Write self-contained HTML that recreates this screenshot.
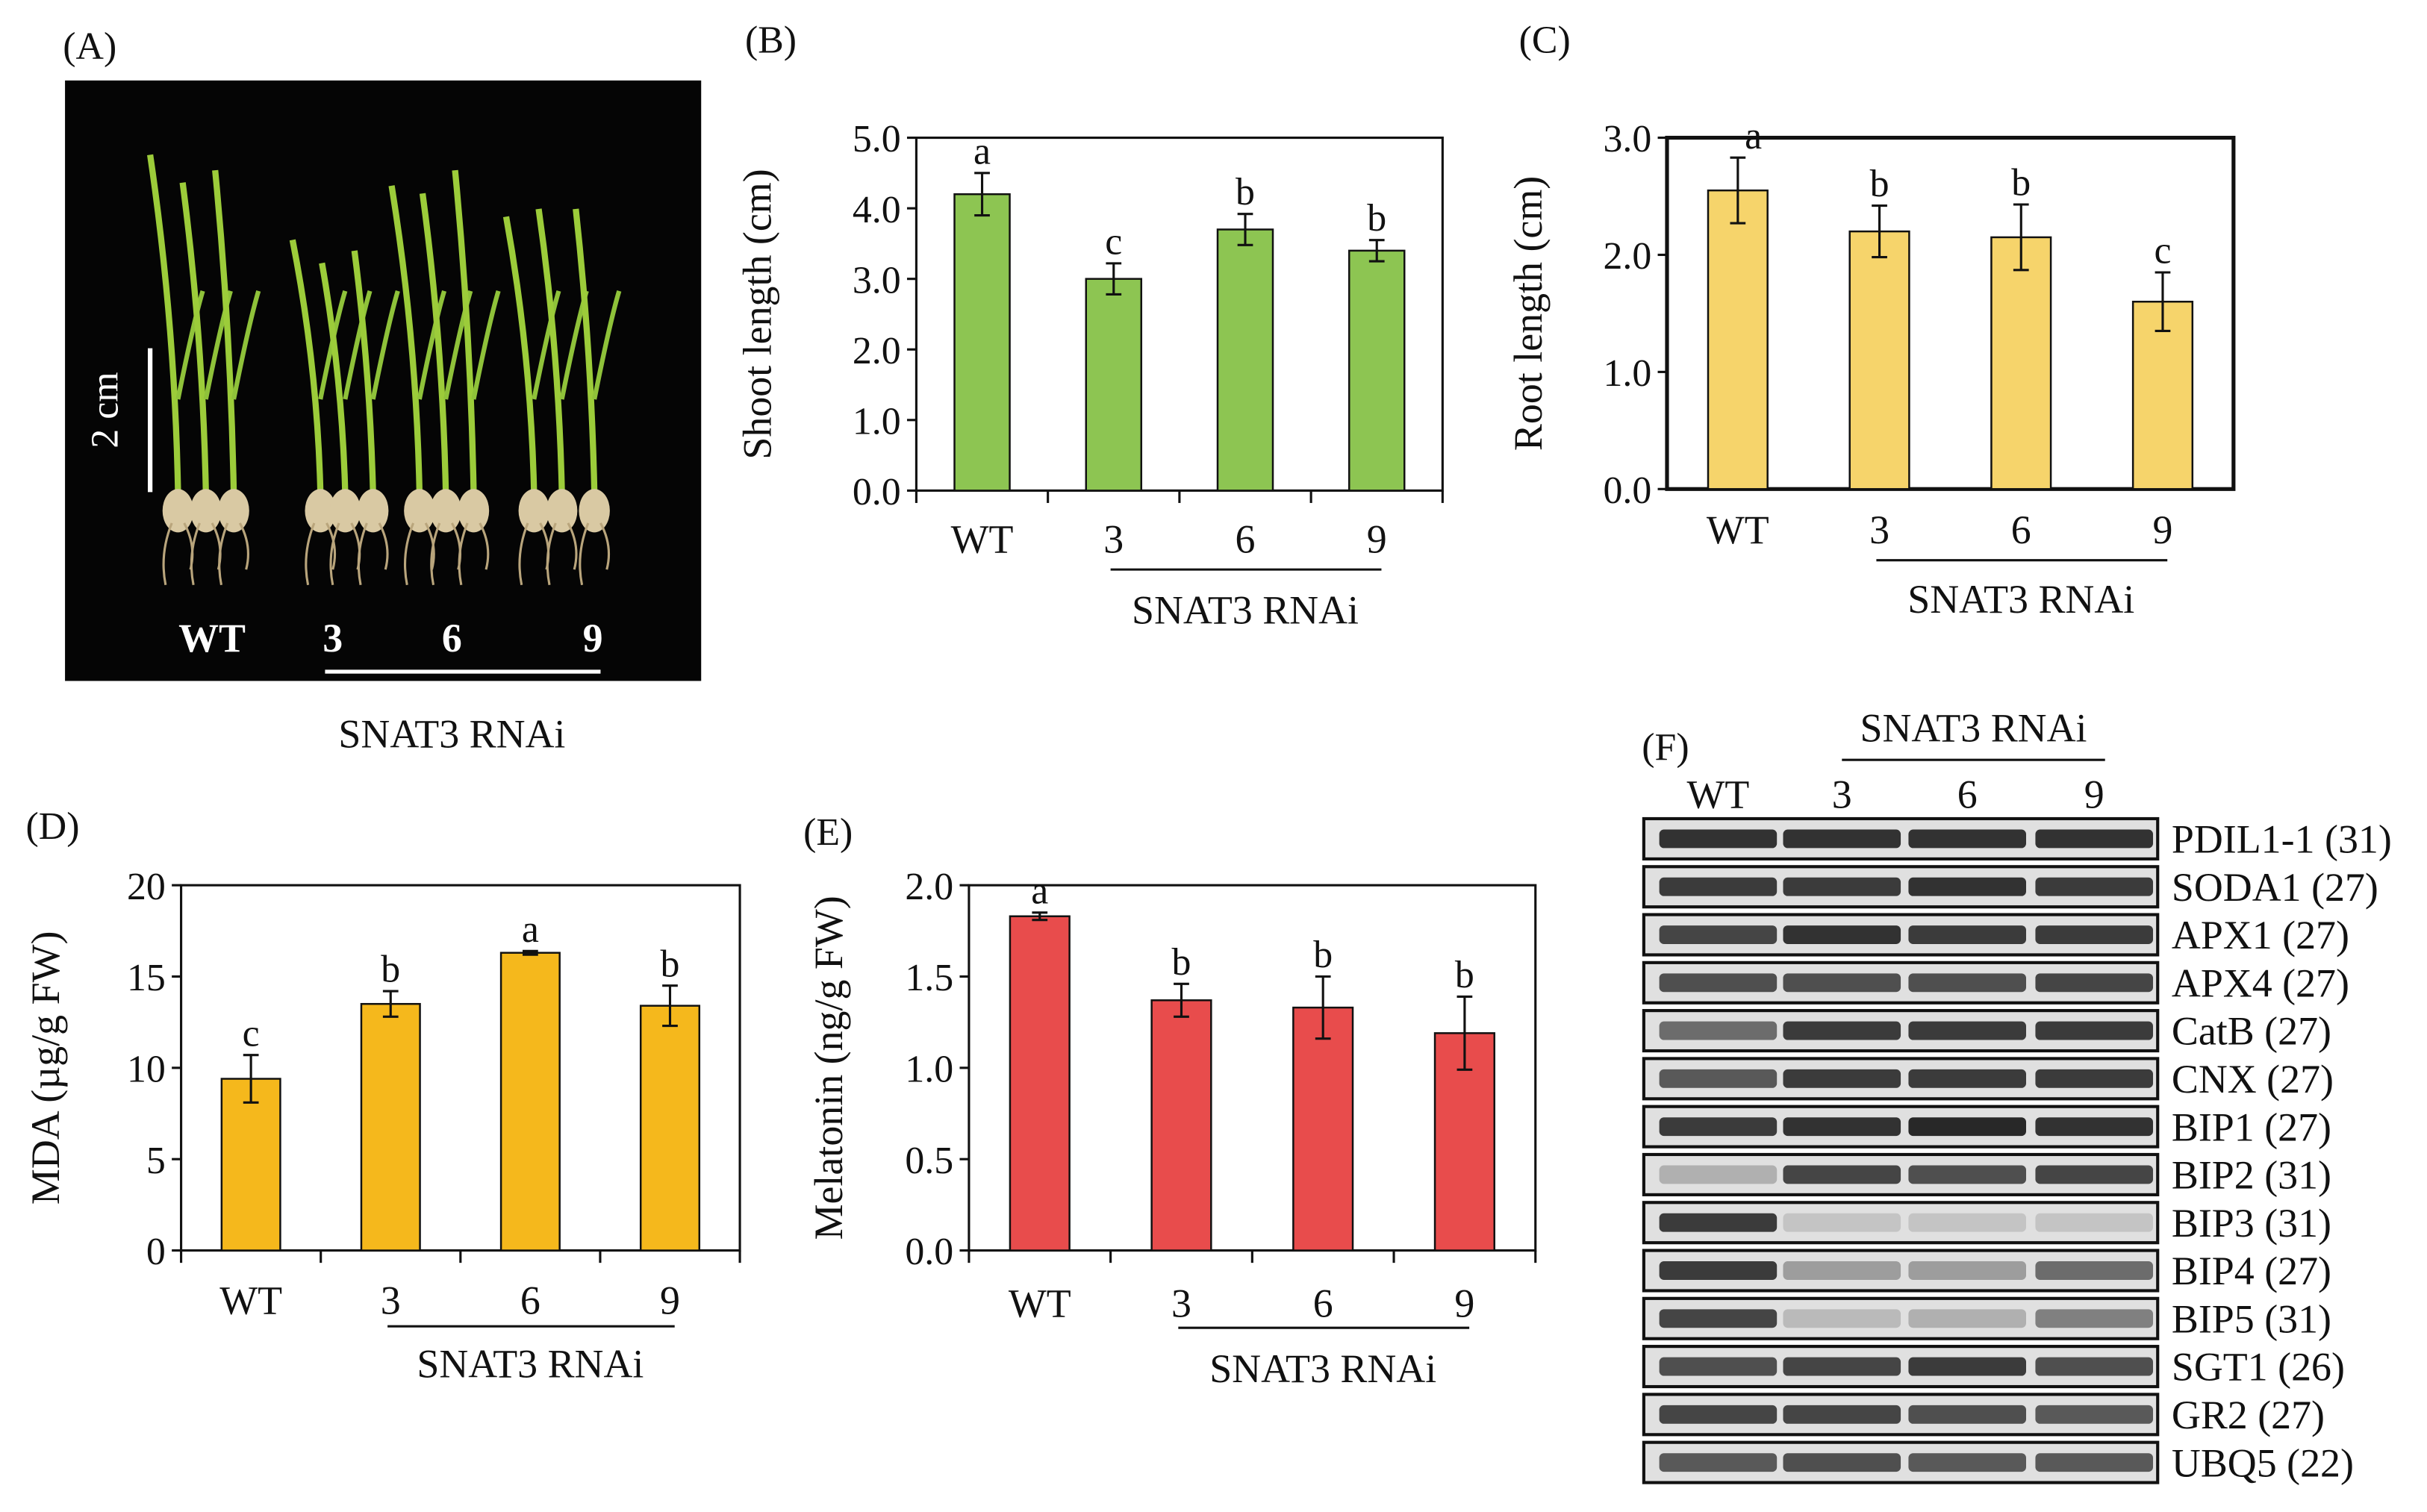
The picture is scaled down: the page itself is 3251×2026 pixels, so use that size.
<!DOCTYPE html>
<html><head><meta charset="utf-8"><style>
html,body{margin:0;padding:0;background:#fff}
svg{display:block}
text{font-family:"Liberation Serif",serif;fill:#111}
</style></head><body>
<svg id="fig" width="3251" height="2026" viewBox="0 0 1568 977" preserveAspectRatio="none">
<rect x="0" y="0" width="1568" height="977" fill="#fff"/>
<g id="panelA">
<text x="58" y="38" font-size="25" text-anchor="middle">(A)</text>
<rect x="42" y="52" width="411" height="388" fill="#050505"/>
<g id="plants"></g>
<line x1="97" y1="225" x2="97" y2="318" stroke="#fff" stroke-width="3"/>
<text x="0" y="0" font-size="25" style="fill:#fff" text-anchor="middle" transform="translate(76,265) rotate(-90)">2 cm</text>
<text x="137" y="421" font-size="26" font-weight="bold" style="fill:#fff" text-anchor="middle">WT</text>
<text x="215" y="421" font-size="26" font-weight="bold" style="fill:#fff" text-anchor="middle">3</text>
<text x="292" y="421" font-size="26" font-weight="bold" style="fill:#fff" text-anchor="middle">6</text>
<text x="383" y="421" font-size="26" font-weight="bold" style="fill:#fff" text-anchor="middle">9</text>
<line x1="210" y1="434" x2="388" y2="434" stroke="#fff" stroke-width="2.5"/>
<text x="292" y="483" font-size="26" text-anchor="middle">SNAT3 RNAi</text>
</g>
<g id="charts"></g>
<g id="panelF">
<text x="1076" y="491" font-size="25" text-anchor="middle">(F)</text>
<text x="1275" y="479" font-size="26" text-anchor="middle">SNAT3 RNAi</text>
<line x1="1190" y1="491" x2="1360" y2="491" stroke="#111" stroke-width="1.5"/>
<text x="1110" y="522" font-size="26" text-anchor="middle">WT</text>
<text x="1190" y="522" font-size="26" text-anchor="middle">3</text>
<text x="1271" y="522" font-size="26" text-anchor="middle">6</text>
<text x="1353" y="522" font-size="26" text-anchor="middle">9</text>
<g id="gels"></g>
</g>
</svg>
<script>
const NS="http://www.w3.org/2000/svg";
function mk(parent,tag,attrs,txt){const e=document.createElementNS(NS,tag);for(const k in attrs)e.setAttribute(k,attrs[k]);if(txt!==undefined)e.textContent=txt;parent.appendChild(e);return e;}

const categories=["WT","3","6","9"];
const shootValues=[4.2,3.0,3.7,3.4];
const shootErrors=[0.3,0.22,0.22,0.15];
const shootLetters=["a","c","b","b"];
const shootTicks=["0.0","1.0","2.0","3.0","4.0","5.0"];
const rootValues=[2.55,2.2,2.15,1.6];
const rootErrors=[0.28,0.22,0.28,0.25];
const rootLetters=["a","b","b","c"];
const rootTicks=["0.0","1.0","2.0","3.0"];
const mdaValues=[9.4,13.5,16.3,13.4];
const mdaErrors=[1.3,0.7,0.1,1.1];
const mdaLetters=["c","b","a","b"];
const mdaTicks=["0","5","10","15","20"];
const melValues=[1.83,1.37,1.33,1.19];
const melErrors=[0.02,0.09,0.17,0.2];
const melLetters=["a","b","b","b"];
const melTicks=["0.0","0.5","1.0","1.5","2.0"];

const charts=[
 {id:"b",label:"(B)",lx:498,ly:34,x0:592,x1:932,y0:317,y1:89,max:5,vals:shootValues,errs:shootErrors,letters:shootLetters,ticks:shootTicks,color:"#8dc552",title:"Shoot length (cm)",tx:490,xl:357,ul:368,sn:403,bottomTicks:true},
 {id:"c",label:"(C)",lx:998,ly:34,x0:1077,x1:1443,y0:316,y1:89,max:3,vals:rootValues,errs:rootErrors,letters:rootLetters,ticks:rootTicks,color:"#f6d46b",title:"Root length (cm)",tx:988,xl:351,ul:362,sn:396,bottomTicks:false,thick:true},
 {id:"d",label:"(D)",lx:34,ly:542,x0:117,x1:478,y0:808,y1:572,max:20,vals:mdaValues,errs:mdaErrors,letters:mdaLetters,ticks:mdaTicks,color:"#f5b81c",title:"MDA (\u00b5g/g FW)",tx:30,xl:849,ul:857,sn:890,bottomTicks:true},
 {id:"e",label:"(E)",lx:535,ly:546,x0:626,x1:992,y0:808,y1:572,max:2,vals:melValues,errs:melErrors,letters:melLetters,ticks:melTicks,color:"#e84c4c",title:"Melatonin (ng/g FW)",tx:536,xl:851,ul:858,sn:893,bottomTicks:true}
];
const root=document.getElementById("charts");
charts.forEach(c=>{
 const g=mk(root,"g",{});
 
 
 const yS=v=>c.y0-(v/c.max)*(c.y0-c.y1);
 const band=(c.x1-c.x0)/categories.length;
 const xS=i=>c.x0+band*(i+0.5);
 const bw=band*0.42;
 const pl=mk(g,"text",{x:c.lx,y:c.ly,"font-size":25,"text-anchor":"middle"},c.label);
 
 
 const fr=mk(g,"rect",{x:c.x0,y:c.y1,width:c.x1-c.x0,height:c.y0-c.y1,fill:"none",stroke:"#111","stroke-width":c.thick?2.5:1.5});
 
 
 c.ticks.forEach((t,i)=>{
  const v=c.max*i/(c.ticks.length-1);const y=yS(v);
  const tl=mk(g,"line",{x1:c.x0-6,x2:c.x0,y1:y,y2:y,stroke:"#111","stroke-width":1.5});
  
  
  const tt=mk(g,"text",{x:c.x0-10,y:y+9,"font-size":25,"text-anchor":"end"},t);
  
  
 });
 if(c.bottomTicks){for(let i=0;i<=categories.length;i++){const x=c.x0+band*i;
  const bt=mk(g,"line",{x1:x,x2:x,y1:c.y0,y2:c.y0+8,stroke:"#111","stroke-width":1.5});
  
  }}
 const yt=mk(g,"text",{x:0,y:0,"font-size":26,"text-anchor":"middle",transform:`translate(${c.tx+8},${(c.y0+c.y1)/2}) rotate(-90)`},c.title);
 
 
 categories.forEach((cat,i)=>{
  const x=xS(i),v=c.vals[i],e=c.errs[i];
  const r=mk(g,"rect",{x:x-bw/2,y:yS(v),width:bw,height:c.y0-yS(v),fill:c.color,stroke:"#111","stroke-width":1.2});
  
  
  const eb=mk(g,"path",{d:`M${x} ${yS(v+e)}V${yS(v-e)}M${x-5} ${yS(v+e)}H${x+5}M${x-5} ${yS(v-e)}H${x+5}`,stroke:"#111","stroke-width":1.5,fill:"none"});
  
  
  const lt=mk(g,"text",{x:x+(c.id==="c"&&i===0?10:0),y:yS(v+e)-6,"font-size":25,"text-anchor":"middle"},c.letters[i]);
  
  
  const xl=mk(g,"text",{x:x,y:c.xl,"font-size":26,"text-anchor":"middle"},cat);
  
  
 });
 const ul=mk(g,"line",{x1:xS(1)-2,x2:xS(3)+3,y1:c.ul,y2:c.ul,stroke:"#111","stroke-width":1.5});
 
 
 const sn=mk(g,"text",{x:xS(2),y:c.sn,"font-size":26,"text-anchor":"middle"},"SNAT3 RNAi");
 
 
});

const plants=document.getElementById("plants");
const stems=[[115,100],[130,118],[145,110],[207,155],[220,170],[235,162],[271,120],[285,125],[300,110],[345,140],[360,135],[378,135]];
stems.forEach((s,i)=>{
 const bx=s[0]+(i%3)*3,by=318;
 const p=mk(plants,"path",{d:`M${bx} ${by} Q${bx-2} ${(by+s[1])/2} ${s[0]-18+(i%3)*6} ${s[1]}`,stroke:"#9ccc3a","stroke-width":4,fill:"none"});
 
 
 const lf=mk(plants,"path",{d:`M${bx} ${by-60} Q${bx+10} ${by-110} ${bx+16} ${by-130}`,stroke:"#8fc23a","stroke-width":3,fill:"none"});
 
 
 const rt=mk(plants,"ellipse",{cx:bx,cy:by+12,rx:10,ry:14,fill:"#d9c9a3"});
 
 
 const rr=mk(plants,"path",{d:`M${bx-4} ${by+20} q-8 20 -4 40 M${bx+4} ${by+20} q8 15 4 30`,stroke:"#b9a57c","stroke-width":1.5,fill:"none"});
 
 
});

const gelLabels=["PDIL1-1 (31)","SODA1 (27)","APX1 (27)","APX4 (27)","CatB (27)","CNX (27)","BIP1 (27)","BIP2 (31)","BIP3 (31)","BIP4 (27)","BIP5 (31)","SGT1 (26)","GR2 (27)","UBQ5 (22)"];
const gelIntensity=[[.9,.9,.9,.9],[.85,.85,.9,.85],[.8,.9,.85,.85],[.75,.75,.75,.8],[.6,.85,.85,.85],[.7,.85,.85,.85],[.85,.9,.95,.9],[.25,.8,.75,.8],[.85,.15,.15,.15],[.85,.35,.35,.6],[.8,.2,.25,.5],[.75,.8,.85,.75],[.8,.8,.75,.7],[.7,.75,.7,.7]];
const gels=document.getElementById("gels");
const laneX=[1110,1190,1271,1353];
gelLabels.forEach((lab,r)=>{
 const yc=542+r*31.0;
 const bg=mk(gels,"rect",{x:1062,y:yc-13,width:332,height:26,fill:"#e0e0e0",stroke:"#111","stroke-width":2});
 
 
 gelIntensity[r].forEach((v,l)=>{
  const g=Math.round(225-v*195);
  const b=mk(gels,"rect",{x:laneX[l]-38,y:yc-6,width:76,height:12,rx:3,fill:`rgb(${g},${g},${g})`});
  
  
 });
 const t=mk(gels,"text",{x:1403,y:yc+9,"font-size":26},lab);
 
 
});
</script>
</body></html>
